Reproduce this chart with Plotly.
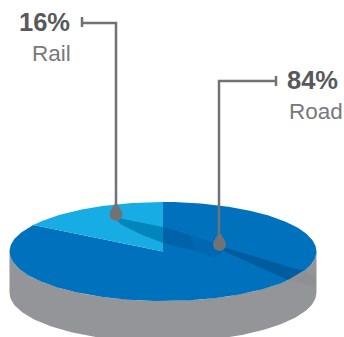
import numpy as np
import plotly.graph_objects as go

# Freight split shown on the disc
modes = ["Rail", "Road"]
shares = [16, 84]
share_labels = ["16%", "84%"]

BLUE_ROAD = "#0071bc"
BLUE_RAIL = "#17ace4"
SIDE = "#939598"
LEADER = "#717275"
TEXT_BOLD = "#58595b"
TEXT_LIGHT = "#78797c"
FONT = "Arial, 'Liberation Sans', sans-serif"

CX, CY, RX, RY, DEPTH = 163.0, 251.5, 153.5, 49.5, 41.0


def rim(start, stop, n=120):
    t = np.radians(np.linspace(start, stop, n))
    return CX + RX * np.cos(t), CY - RY * np.sin(t)


def polygon(x, y, color, opacity=1.0):
    return go.Scatter(x=list(x), y=list(y), mode="lines", fill="toself", fillcolor=color,
                      line=dict(width=0), opacity=opacity, hoverinfo="skip", showlegend=False)


traces = []

# Cylinder wall
fx, fy = rim(180, 360)
traces.append(polygon(np.r_[fx, fx[::-1]], np.r_[fy, fy[::-1] + DEPTH], SIDE))

# Top face: wedges run counter-clockwise from twelve o'clock, Rail first
rail_sweep = shares[0] / sum(shares) * 360
rx, ry = rim(90, 90 + rail_sweep)
ox, oy = rim(90 + rail_sweep, 450, 300)
traces.append(polygon(np.r_[CX, ox], np.r_[CY, oy], BLUE_ROAD))
traces.append(polygon(np.r_[CX, rx], np.r_[CY, ry], BLUE_RAIL))

# Shadows cast by the two leader pins
traces.append(polygon([113, 163, 163, 140, 122], [217, 227, 243, 234, 225], "#0086bb"))
traces.append(polygon([163, 190, 196, 163], [227, 235, 251, 243], "#0062a8"))
traces.append(polygon([190, 216, 222, 214, 196], [235, 243, 252, 258, 251], "#0068b2"))
traces.append(polygon([219, 303, 288, 226], [246, 271, 280, 252], "#005c9e"))
traces.append(polygon([303, 316, 316, 288], [271, 276, 287, 280], "#8f9094"))

fig = go.Figure(traces)

# Leader lines with end caps
leaders = [
    ([82, 82, None, 82, 116, 116], [17, 27, None, 23, 23, 212]),
    ([276, 276, None, 276, 219, 219], [76, 86, None, 81, 81, 243]),
]
for lx, ly in leaders:
    fig.add_trace(go.Scatter(x=lx, y=ly, mode="lines", line=dict(color=LEADER, width=2.5),
                             hoverinfo="skip", showlegend=False))

# Teardrop pins at the line ends
for px, py in [(116, 214.5), (219.5, 244.5)]:
    theta = np.linspace(0, 2 * np.pi, 60)
    fig.add_trace(polygon(px + 6.5 * np.cos(theta), py + 6.5 * np.sin(theta), LEADER))
    fig.add_trace(polygon([px - 5.8, px - 1, px + 1, px + 5.8], [py - 3, py - 11, py - 11, py - 3], LEADER))

label_spots = [(44.5, 21.5), (312.5, 80)]
name_spots = [(51.5, 53.5), (316, 111)]
for mode, label, (x1, y1), (x2, y2) in zip(modes, share_labels, label_spots, name_spots):
    fig.add_annotation(x=x1, y=y1, text=f"<b>{label}</b>", showarrow=False,
                       font=dict(family=FONT, size=25.5, color=TEXT_BOLD))
    fig.add_annotation(x=x2, y=y2, text=mode, showarrow=False,
                       font=dict(family=FONT, size=22.5, color=TEXT_LIGHT))

fig.update_layout(
    width=344, height=337, margin=dict(l=0, r=0, t=0, b=0),
    font=dict(family=FONT),
    paper_bgcolor="white", plot_bgcolor="white", showlegend=False,
    xaxis=dict(range=[0, 344], visible=False, fixedrange=True),
    yaxis=dict(range=[337, 0], visible=False, fixedrange=True),
)

fig.write_html("out.html", config={"displayModeBar": False})
